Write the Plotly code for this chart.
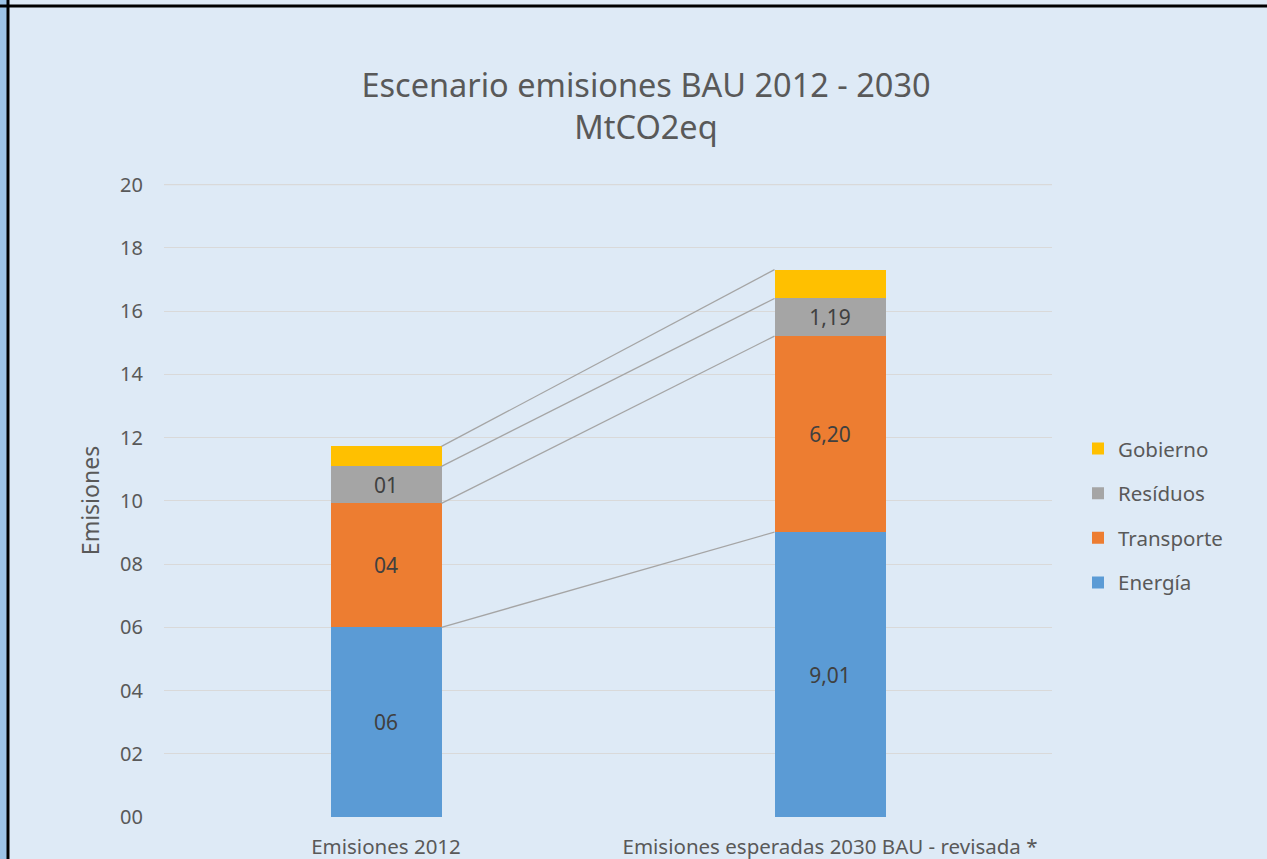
import plotly.graph_objects as go

categories = ["Emisiones 2012", "Emisiones esperadas 2030 BAU - revisada *"]
series_names = ["Energía", "Transporte", "Resíduos", "Gobierno"]
energia = [6.00, 9.01]
transporte = [3.92, 6.20]
residuos = [1.17, 1.19]
gobierno = [0.63, 0.91]
colors = ["#5B9BD5", "#ED7D31", "#A5A5A5", "#FFC000"]
y_ticks = [0, 2, 4, 6, 8, 10, 12, 14, 16, 18, 20]

series = [energia, transporte, residuos, gobierno]
show_label = [True, True, True, False]

def fmt(v, i):
    if i == 0:
        return f"{v:02.0f}"
    return f"{v:.2f}".replace(".", ",")

x_pos = list(range(len(categories)))
bar_w = 0.25
FONT = "Noto Sans"
TXT = "#595959"

fig = go.Figure()
n = len(series_names)
for k, (name, vals, col, lab) in enumerate(zip(series_names, series, colors, show_label)):
    fig.add_trace(go.Bar(
        x=x_pos, y=vals, name=name, marker_color=col, width=bar_w,
        marker_line_width=0, legendgroup=name, legendrank=n - k,
        text=[fmt(v, i) for i, v in enumerate(vals)] if lab else None,
        textposition="inside" if lab else "none", insidetextanchor="middle",
        textangle=0, textfont=dict(size=21, color="#404040", family=FONT),
        hoverinfo="skip",
    ))

# series connector lines
cum = [0.0] * len(categories)
for vals in series:
    cum = [c + v for c, v in zip(cum, vals)]
    fig.add_trace(go.Scatter(
        x=[x_pos[0] + bar_w / 2, x_pos[1] - bar_w / 2], y=[cum[0], cum[1]],
        mode="lines", line=dict(color="#A5A5A5", width=1.3),
        showlegend=False, hoverinfo="skip",
    ))

W, H = 1267, 859
ml, mr, mt, mb = 164, 215, 184, 42
pw, ph = W - ml - mr, H - mt - mb
def px(x):
    return (x - ml) / pw
def py(y):
    return (H - mb - y) / ph

shapes = [
    dict(type="rect", xref="paper", yref="paper", x0=px(0), x1=px(7), y0=py(H), y1=py(0),
         fillcolor="#9DC3E6", line_width=0, layer="below"),
    dict(type="line", xref="paper", yref="paper", x0=px(8), x1=px(8), y0=py(H), y1=py(0),
         line=dict(color="#000000", width=3)),
    dict(type="line", xref="paper", yref="paper", x0=px(0), x1=px(W), y0=py(6), y1=py(6),
         line=dict(color="#000000", width=3)),
    # top gridline (at the axis edge)
    dict(type="line", xref="paper", yref="y", x0=0, x1=1, y0=y_ticks[-1], y1=y_ticks[-1],
         line=dict(color="#D9D9D9", width=1.2), layer="below"),
]

fig.update_layout(
    width=W, height=H,
    margin=dict(l=ml, r=mr, t=mt, b=mb, autoexpand=False),
    barmode="stack",
    paper_bgcolor="#DEEAF6", plot_bgcolor="#DEEAF6",
    font=dict(family=FONT, color=TXT),
    title=dict(text="Escenario emisiones BAU 2012 - 2030<br>MtCO2eq", x=px(646), xref="paper",
               xanchor="center", y=1 - 97 / H, yref="container", yanchor="middle",
               font=dict(size=32.5, color=TXT, family=FONT)),
    xaxis=dict(range=[-0.5, 1.5], tickvals=x_pos, ticktext=categories, showgrid=False,
               zeroline=False, showline=False, ticks="", ticklabelstandoff=15,
               automargin=False, tickfont=dict(size=20.5, color=TXT)),
    yaxis=dict(range=[0, 20.02], tickvals=y_ticks, ticktext=[f"{t:02d}" for t in y_ticks],
               showgrid=True, gridcolor="#D9D9D9", gridwidth=1.2, zeroline=False,
               tickfont=dict(size=20, color=TXT), ticklabelstandoff=20, automargin=False,
               title=dict(text="Emisiones", font=dict(size=23, color=TXT), standoff=14)),
    legend=dict(traceorder="grouped", x=px(1078), y=0.476, xanchor="left",
                yanchor="middle", font=dict(size=20.5, color=TXT), itemsizing="constant",
                bgcolor="rgba(0,0,0,0)", tracegroupgap=15),
    bargap=0.75, shapes=shapes,
)

fig.write_html("out.html")
